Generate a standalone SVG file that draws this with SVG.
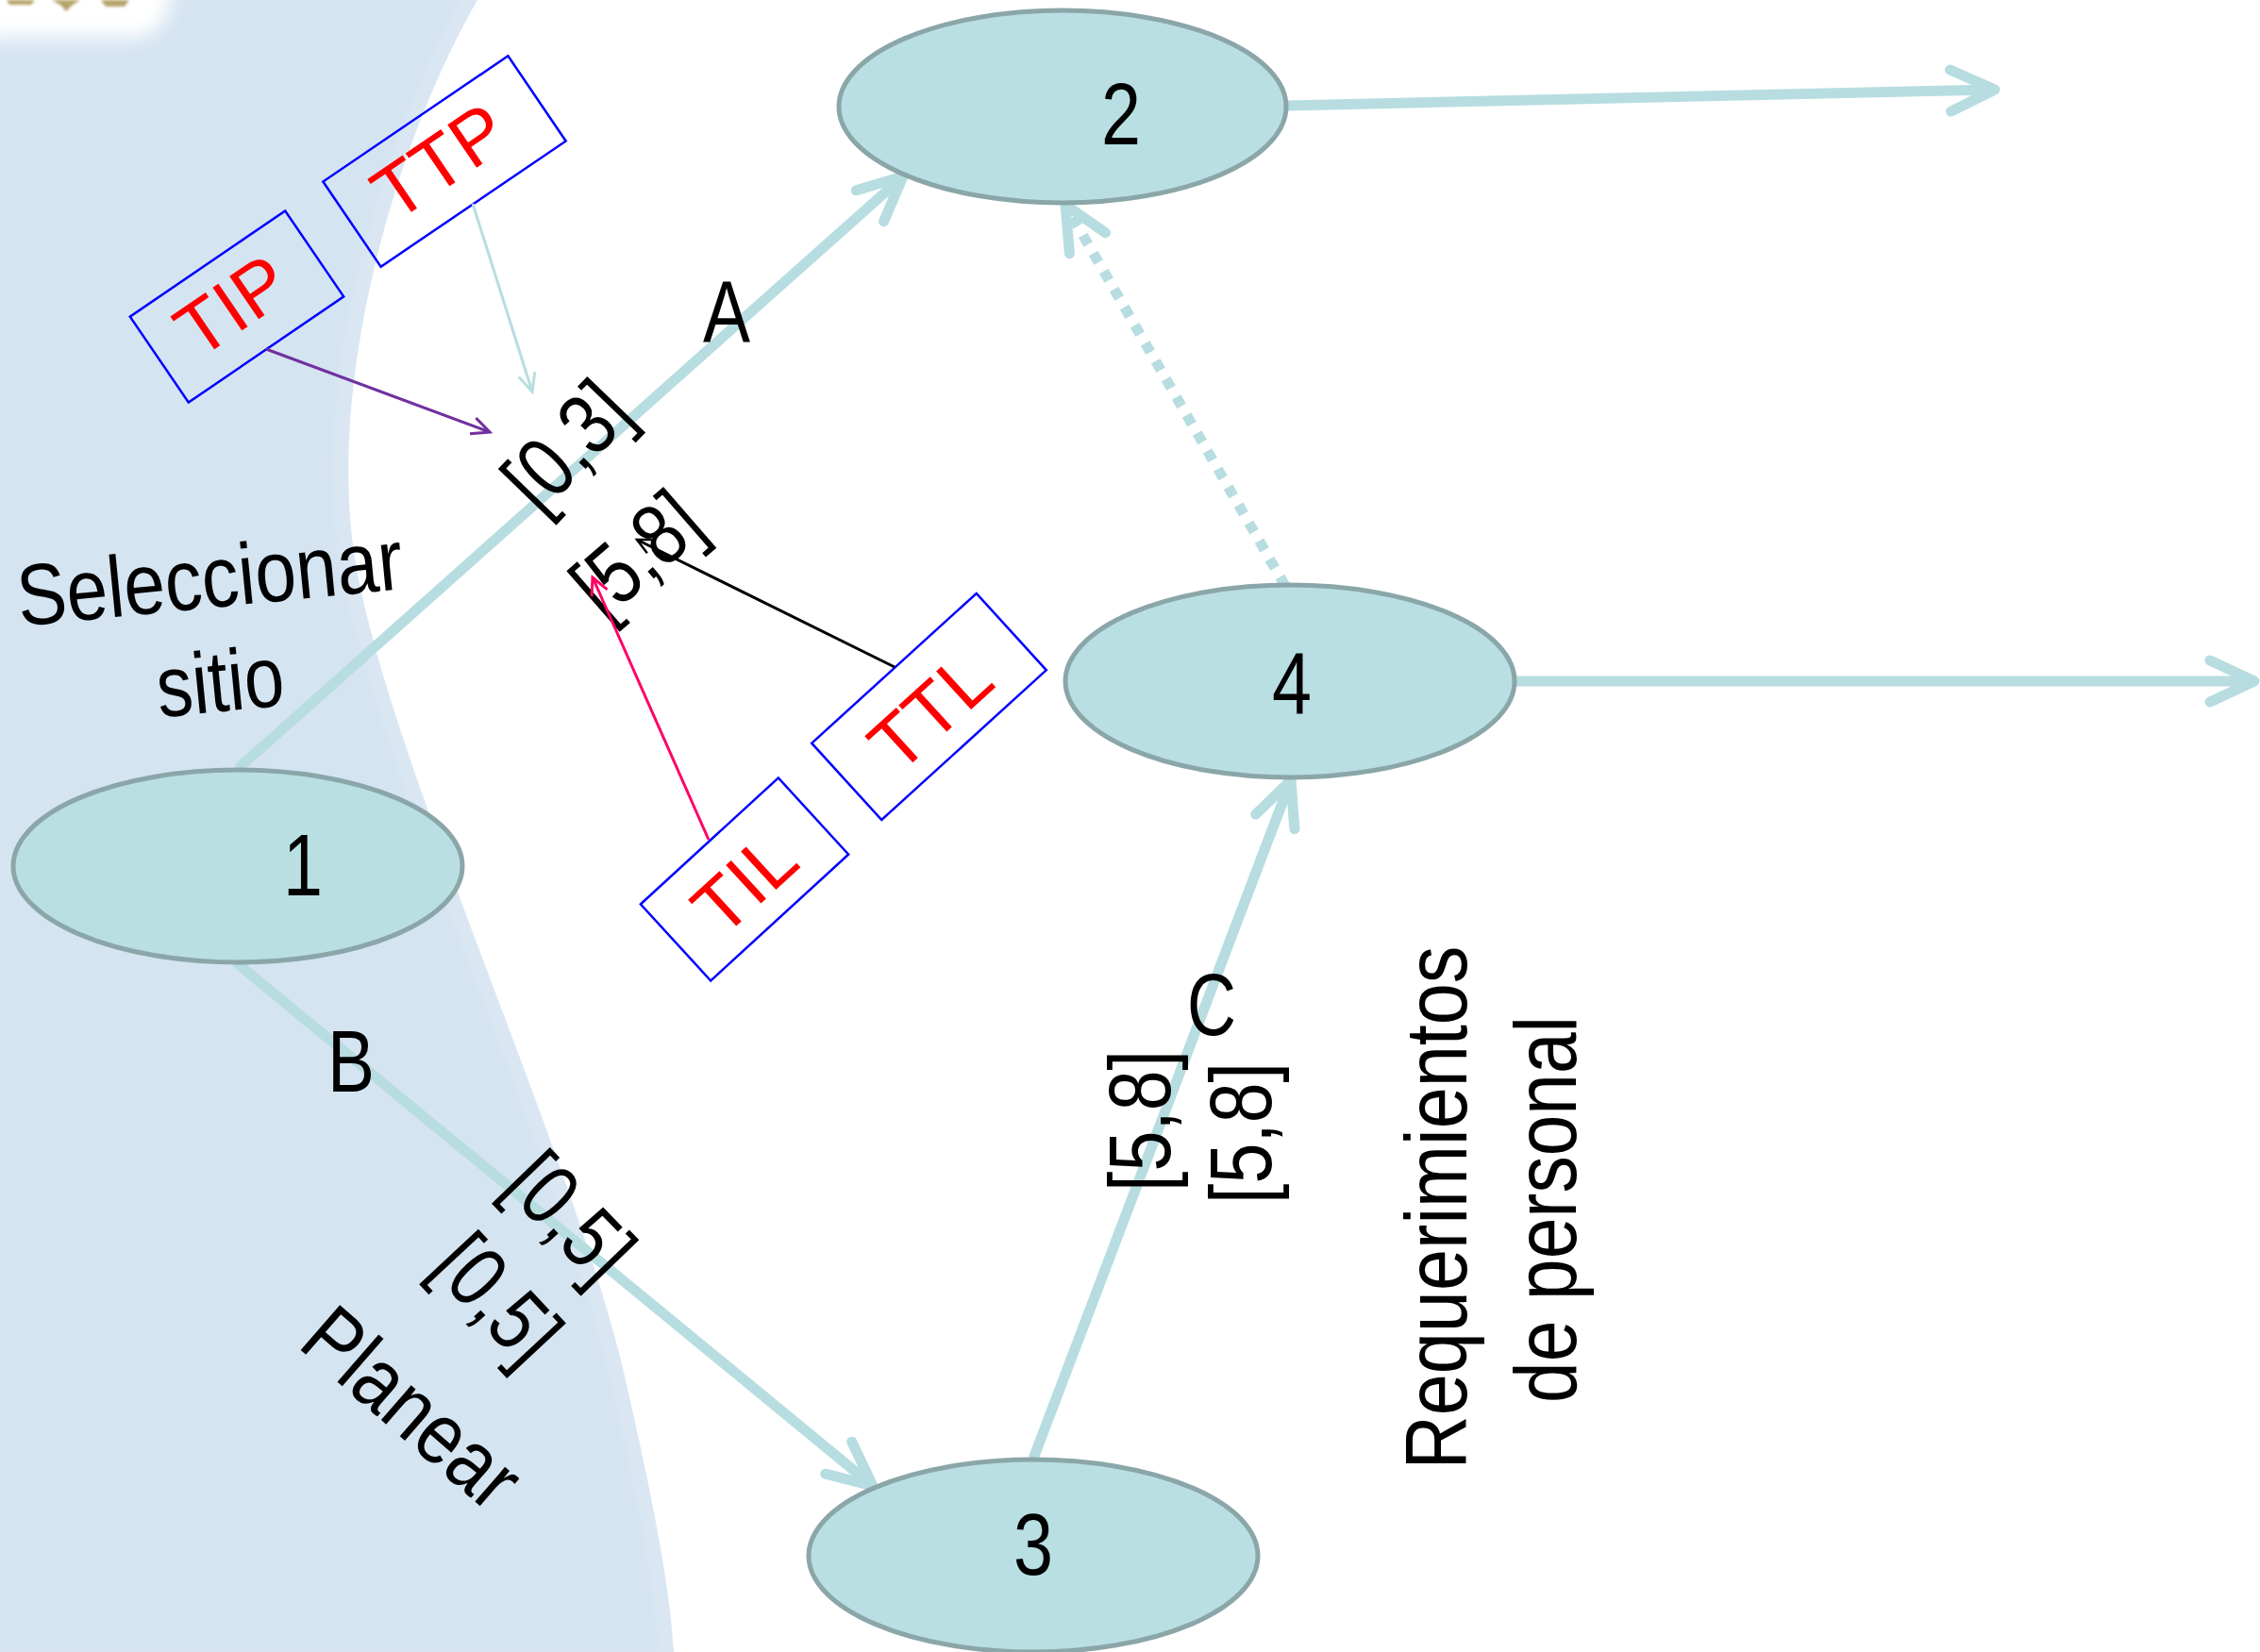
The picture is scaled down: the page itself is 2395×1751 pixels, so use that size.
<svg xmlns="http://www.w3.org/2000/svg" width="2395" height="1751" viewBox="0 0 2395 1751">
  <defs>
    <style>
      .lbl { font-family: "Liberation Sans", Arial, sans-serif; font-size: 92px; fill: #000000; text-anchor: middle; }
      .tag { font-family: "Liberation Sans", Arial, sans-serif; font-size: 80px; fill: #ff0000; text-anchor: middle; }
      .node ellipse { fill: #b9dfe2; stroke: #8ba6a9; stroke-width: 5; }
      .edge { fill: none; stroke: #b7dde0; stroke-width: 11; }
      .box { fill: none; stroke: #0000ff; stroke-width: 2.5; }
      .pointer { fill: none; stroke-width: 3; }
    </style>
    <filter id="soft" x="-50%" y="-50%" width="200%" height="200%">
      <feGaussianBlur stdDeviation="10"/>
    </filter>
    <filter id="softer" x="-50%" y="-50%" width="200%" height="200%">
      <feGaussianBlur stdDeviation="1.5"/>
    </filter>
    <filter id="band" x="-10%" y="-10%" width="120%" height="120%">
      <feGaussianBlur stdDeviation="3"/>
    </filter>
    <!-- open chevron head for the thick activity arrows -->
    <marker id="head" markerUnits="userSpaceOnUse" viewBox="-60 -35 70 70" markerWidth="70" markerHeight="70" refX="0" refY="0" orient="auto" overflow="visible">
      <path d="M-47,-22 L0,0 L-47,22" fill="none" stroke="#b7dde0" stroke-width="11" stroke-linecap="round" stroke-linejoin="round"/>
    </marker>
    <!-- small open heads for the annotation pointers -->
    <marker id="tip-purple" markerUnits="userSpaceOnUse" viewBox="-25 -15 30 30" markerWidth="30" markerHeight="30" orient="auto" overflow="visible">
      <path d="M-19,-9 L0,0 L-19,9" fill="none" stroke="#7030a0" stroke-width="3"/>
    </marker>
    <marker id="tip-teal" markerUnits="userSpaceOnUse" viewBox="-25 -15 30 30" markerWidth="30" markerHeight="30" orient="auto" overflow="visible">
      <path d="M-19,-9 L0,0 L-19,9" fill="none" stroke="#b7dde0" stroke-width="3"/>
    </marker>
    <marker id="tip-black" markerUnits="userSpaceOnUse" viewBox="-25 -15 30 30" markerWidth="30" markerHeight="30" orient="auto" overflow="visible">
      <path d="M-16,-8 L0,0 L-16,8" fill="none" stroke="#000000" stroke-width="2.5"/>
    </marker>
    <marker id="tip-pink" markerUnits="userSpaceOnUse" viewBox="-25 -15 30 30" markerWidth="30" markerHeight="30" orient="auto" overflow="visible">
      <path d="M-18,-9 L0,0 L-18,9" fill="none" stroke="#ff0066" stroke-width="3"/>
    </marker>
  </defs>

  <!-- page background with the curved blue panel on the left -->
  <rect x="0" y="0" width="2395" height="1751" fill="#ffffff"/>
  <path d="M0,0 H506 C420,150 355,380 372,560 C390,760 600,1200 660,1450 C690,1580 710,1680 714,1751 H0 Z" fill="#dae7f3"/>
  <path d="M0,0 H490 C404,150 339,380 356,560 C374,760 584,1200 644,1450 C674,1580 694,1680 698,1751 H0 Z" fill="#d5e4f1" filter="url(#band)"/>

  <!-- faded corner emblem -->
  <rect x="-60" y="-60" width="240" height="100" rx="40" fill="#ffffff" filter="url(#soft)"/>
  <g fill="#b5a46c" filter="url(#softer)">
    <path d="M7,0 H37 L33,5 H10 Z"/>
    <path d="M55,0 H85 L76,6 L70,12 L65,6 Z"/>
    <path d="M107,0 H137 L132,7 H112 Z"/>
  </g>

  <!-- activity arrows -->
  <g id="connectors">
    <path id="edge-A" class="edge" d="M252,815 L957,187" marker-end="url(#head)"/>
    <path id="edge-B" class="edge" d="M250,1020 L925,1575" marker-end="url(#head)"/>
    <path id="edge-C" class="edge" d="M1095,1546 L1368,827" stroke-width="8" marker-end="url(#head)"/>
    <path id="edge-2-out" class="edge" d="M1364,112 L2114,95" marker-end="url(#head)"/>
    <path id="edge-4-out" class="edge" d="M1605,722 L2389,722" marker-end="url(#head)"/>
    <path id="edge-4-2" class="edge" d="M1362,621 L1129,217" stroke-width="10" stroke-dasharray="11 11" marker-end="url(#head)"/>
  </g>

  <!-- events -->
  <g id="node-1" class="node">
    <ellipse cx="252" cy="918" rx="238" ry="102"/>
    <text class="lbl" transform="translate(321,916)" y="33" textLength="42" lengthAdjust="spacingAndGlyphs">1</text>
  </g>
  <g id="node-2" class="node">
    <ellipse cx="1126" cy="113" rx="237" ry="102"/>
    <text class="lbl" transform="translate(1188,120)" y="33" textLength="42" lengthAdjust="spacingAndGlyphs">2</text>
  </g>
  <g id="node-3" class="node">
    <ellipse cx="1095" cy="1649" rx="238" ry="102"/>
    <text class="lbl" transform="translate(1095,1636)" y="33" textLength="42" lengthAdjust="spacingAndGlyphs">3</text>
  </g>
  <g id="node-4" class="node">
    <ellipse cx="1367" cy="722" rx="238" ry="102"/>
    <text class="lbl" transform="translate(1369,723)" y="33" textLength="42" lengthAdjust="spacingAndGlyphs">4</text>
  </g>

  <!-- activity names and time windows -->
  <g id="edge-labels">
    <text class="lbl" transform="translate(770,330)" y="33" textLength="50" lengthAdjust="spacingAndGlyphs">A</text>
    <text class="lbl" transform="translate(372,1124)" y="33" textLength="50" lengthAdjust="spacingAndGlyphs">B</text>
    <text class="lbl" transform="translate(1284,1064)" y="33" textLength="52" lengthAdjust="spacingAndGlyphs">C</text>

    <text class="lbl" transform="translate(222,611) rotate(-5.6)" y="33" textLength="410" lengthAdjust="spacingAndGlyphs">Seleccionar</text>
    <text class="lbl" transform="translate(233,721) rotate(-5.6)" y="33" textLength="135" lengthAdjust="spacingAndGlyphs">sitio</text>

    <text class="lbl" transform="translate(605,477) rotate(-46)" y="25" textLength="147" lengthAdjust="spacingAndGlyphs">[0,3]</text>
    <text class="lbl" transform="translate(679,592) rotate(-41)" y="25" textLength="147" lengthAdjust="spacingAndGlyphs">[5,8]</text>

    <text class="lbl" transform="translate(600,1294) rotate(46)" y="25" textLength="147" lengthAdjust="spacingAndGlyphs">[0,5]</text>
    <text class="lbl" transform="translate(523,1381) rotate(47)" y="25" textLength="147" lengthAdjust="spacingAndGlyphs">[0,5]</text>
    <text class="lbl" transform="translate(438,1491) rotate(41)" y="33" textLength="272" lengthAdjust="spacingAndGlyphs">Planear</text>

    <text class="lbl" transform="translate(1215,1188) rotate(-90)" y="25" textLength="150" lengthAdjust="spacingAndGlyphs">[5,8]</text>
    <text class="lbl" transform="translate(1322,1201) rotate(-90)" y="25" textLength="150" lengthAdjust="spacingAndGlyphs">[5,8]</text>

    <text class="lbl" transform="translate(1521,1280) rotate(-90)" y="33" textLength="555" lengthAdjust="spacingAndGlyphs">Requerimientos</text>
    <text class="lbl" transform="translate(1637,1282) rotate(-90)" y="33" textLength="410" lengthAdjust="spacingAndGlyphs">de personal</text>
  </g>

  <!-- time annotation tags -->
  <g id="tag-TIP">
    <rect class="box" x="-99.5" y="-55" width="199" height="110" transform="translate(251,325) rotate(-34.3)"/>
    <text class="tag" transform="translate(245,323) rotate(-34.3)" y="29">TIP</text>
  </g>
  <g id="tag-TTP">
    <rect class="box" x="-118.5" y="-54.5" width="237" height="109" transform="translate(471,171) rotate(-34.2)"/>
    <text class="tag" transform="translate(465,170) rotate(-34.2)" y="29">TTP</text>
  </g>
  <g id="tag-TTL">
    <rect class="box" x="-118" y="-55" width="236" height="110" transform="translate(984.5,749) rotate(-42.3)"/>
    <text class="tag" transform="translate(985,753) rotate(-42.3)" y="29">TTL</text>
  </g>
  <g id="tag-TIL">
    <rect class="box" x="-99" y="-55" width="198" height="110" transform="translate(789,932) rotate(-42.5)"/>
    <text class="tag" transform="translate(788,935) rotate(-42.5)" y="29">TIL</text>
  </g>

  <!-- pointers from the tags to the time windows -->
  <g id="tag-pointers">
    <path class="pointer" d="M282,370 L519,458" stroke="#7030a0" marker-end="url(#tip-purple)"/>
    <path class="pointer" d="M501,216 L564,415" stroke="#b7dde0" marker-end="url(#tip-teal)"/>
    <path class="pointer" d="M948,707 L675,572" stroke="#000000" stroke-width="2.5" marker-end="url(#tip-black)"/>
    <path class="pointer" d="M751,890 L628,612" stroke="#ff0066" marker-end="url(#tip-pink)"/>
  </g>
</svg>
